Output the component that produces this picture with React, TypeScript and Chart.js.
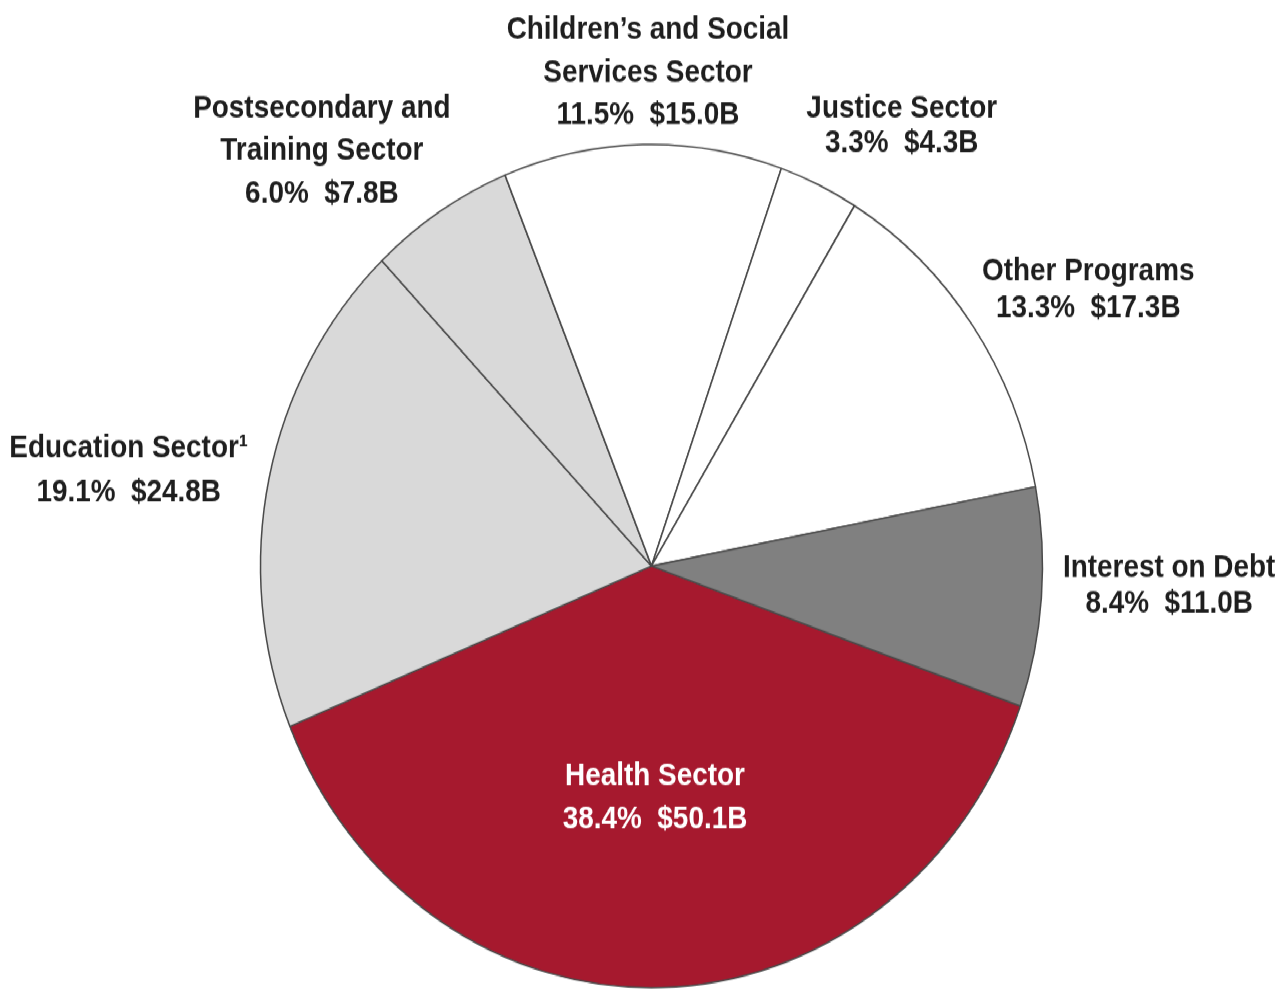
import { useEffect, useRef } from "react";
import { Chart, registerables } from "chart.js";

Chart.register(...registerables);

// ---- data ----
const categories = [
  "Health Sector",
  "Education Sector¹",
  "Postsecondary and Training Sector",
  "Children’s and Social Services Sector",
  "Justice Sector",
  "Other Programs",
  "Interest on Debt",
];
const labelLines = [
  ["Health Sector"],
  ["Education Sector¹"],
  ["Postsecondary and", "Training Sector"],
  ["Children’s and Social", "Services Sector"],
  ["Justice Sector"],
  ["Other Programs"],
  ["Interest on Debt"],
];
const sharePercent = [38.4, 19.1, 6.0, 11.5, 3.3, 13.3, 8.4];
const spendingBillions = [50.1, 24.8, 7.8, 15.0, 4.3, 17.3, 11.0];

// ---- styles ----
const sliceColors = ["#A6192E", "#D9D9D9", "#D9D9D9", "#FFFFFF", "#FFFFFF", "#FFFFFF", "#808080"];
const textColors = ["#FFFFFF", "#1E1E1E", "#1E1E1E", "#1E1E1E", "#1E1E1E", "#1E1E1E", "#1E1E1E"];
// label anchor relative to pie centre (fractions of radius), first baseline, line gap in px
const labelLayout = [
  { dx: 0.009, dy: 0.519, gap: 40 },
  { dx: -1.337, dy: -0.257, gap: 41 },
  { dx: -0.843, dy: -1.064, gap: 39.5 },
  { dx: -0.009, dy: -1.25, gap: 39.4 },
  { dx: 0.64, dy: -1.064, gap: 32.5 },
  { dx: 1.117, dy: -0.678, gap: 34 },
  { dx: 1.324, dy: 0.026, gap: 32.5 },
];

const STRETCH = 990 / 918;
const FONT = 'bold 30px "Liberation Sans", Arial, sans-serif';
const NARROW = 0.93;

const labelPlugin = {
  id: "sliceLabels",
  afterDatasetsDraw(chart: any) {
    const meta = chart.getDatasetMeta(0);
    const arc = meta.data[0];
    if (!arc) return;
    const { x, y, outerRadius } = arc.getProps(["x", "y", "outerRadius"], true);
    const ctx = chart.ctx;
    ctx.save();
    ctx.font = FONT;
    ctx.textAlign = "center";
    ctx.textBaseline = "alphabetic";
    categories.forEach((_, i) => {
      const lay = labelLayout[i];
      const lines = [
        ...labelLines[i],
        `${sharePercent[i].toFixed(1)}%  $${spendingBillions[i].toFixed(1)}B`,
      ];
      const ax = x + lay.dx * outerRadius;
      const ay = y + lay.dy * outerRadius;
      ctx.fillStyle = textColors[i];
      lines.forEach((ln, k) => {
        ctx.save();
        ctx.translate(ax, ay + k * lay.gap);
        ctx.scale(NARROW, 1);
        ctx.fillText(ln, 0, 0);
        ctx.restore();
      });
    });
    ctx.restore();
  },
};

export default function App() {
  const ref = useRef<HTMLCanvasElement | null>(null);
  useEffect(() => {
    document.body.style.margin = "0";
    if (!ref.current) return;
    const chart = new Chart(ref.current, {
      type: "pie",
      data: {
        labels: categories,
        datasets: [
          {
            data: sharePercent,
            backgroundColor: sliceColors,
            borderColor: "#4A4A4A",
            borderWidth: 1.5,
          },
        ],
      },
      options: {
        responsive: false,
        animation: false,
        rotation: 109.4,
        radius: 391,
        layout: { padding: { left: 20, right: 0, top: 131.8, bottom: 0 } },
        plugins: {
          legend: { display: false },
          tooltip: { enabled: false },
        },
      } as any,
      plugins: [labelPlugin],
    });
    return () => chart.destroy();
  }, []);
  return (
    <div
      style={{
        position: "fixed",
        left: 0,
        top: 0,
        width: 1283,
        height: 918,
        background: "#FFFFFF",
        transform: `scaleY(${STRETCH})`,
        transformOrigin: "0 0",
      }}
    >
      <canvas ref={ref} width={1283} height={918} />
    </div>
  );
}
